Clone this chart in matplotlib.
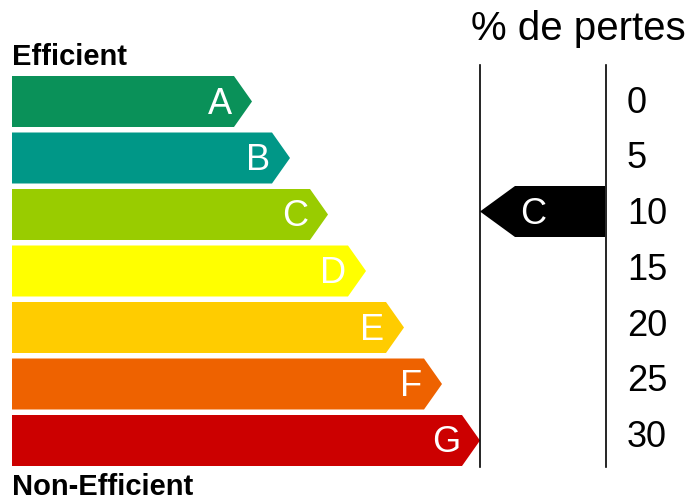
"""
Étiquette énergie : classes A-G avec la flèche du % de pertes.
"""
import matplotlib
matplotlib.use("Agg")
import matplotlib.pyplot as plt
from matplotlib.patches import Polygon

CLASSES = ["A", "B", "C", "D", "E", "F", "G"]
BAR_LENGTHS = [240, 278, 316, 354, 392, 430, 468]   # longueur jusqu'à la pointe
COLORS = ["#0a9159", "#009787", "#99cc00", "#ffff00", "#ffcc00", "#ee6200", "#cc0000"]
LOSS_TICKS = [0, 5, 10, 15, 20, 25, 30]
SELECTED = "C"
TITLE = "% de pertes"

plt.rcParams["font.family"] = ["Liberation Sans", "DejaVu Sans"]

X0 = 12          # bord gauche des barres
ROW0 = 101.5     # centre de la première barre
ROW_STEP = 56.5
BAR_H = 51
TIP = 18
LINE_L, LINE_R = 480, 606


def main():
    fig = plt.figure(figsize=(6.91, 5.01), dpi=100)
    ax = fig.add_axes([0, 0, 1, 1])
    ax.set_xlim(0, 691)
    ax.set_ylim(501, 0)
    ax.axis("off")

    for i, (cls, length, col) in enumerate(zip(CLASSES, BAR_LENGTHS, COLORS)):
        yc = ROW0 + i * ROW_STEP
        top, bot = yc - BAR_H / 2, yc + BAR_H / 2
        tip = X0 + length
        end = tip - TIP
        ax.add_patch(Polygon([(X0, top), (end, top), (tip, yc), (end, bot), (X0, bot)],
                             closed=True, facecolor=col, edgecolor="none"))
        ax.text(end - 2, yc + 12, cls, color="white", fontsize=26,
                ha="right", va="baseline")

    # échelle des pertes
    ax.plot([LINE_L, LINE_L], [65, 467], color="black", lw=1.2)
    ax.plot([LINE_R, LINE_R], [65, 467], color="black", lw=1.2)
    ax.text(578, 40, TITLE, fontsize=29, ha="center", va="baseline")
    for p in LOSS_TICKS:
        ax.text(627, 112.5 + p * 11.15, str(p), fontsize=26, ha="left", va="baseline")

    # flèche noire de la classe retenue
    k = CLASSES.index(SELECTED)
    yc = ROW0 + k * ROW_STEP - 3
    top, bot = yc - BAR_H / 2, yc + BAR_H / 2
    ax.add_patch(Polygon([(LINE_L, yc), (LINE_L + 35, top), (LINE_R - 1, top),
                          (LINE_R - 1, bot), (LINE_L + 35, bot)],
                         closed=True, facecolor="black", edgecolor="none"))
    ax.text(533, yc + 12, SELECTED, color="white", fontsize=26, ha="center", va="baseline")

    ax.text(X0, 65, "Efficient", fontsize=21, fontweight="bold", ha="left", va="baseline")
    ax.text(X0, 495, "Non-Efficient", fontsize=21, fontweight="bold", ha="left", va="baseline")

    fig.savefig("out.png", dpi=100)


if __name__ == "__main__":
    main()
